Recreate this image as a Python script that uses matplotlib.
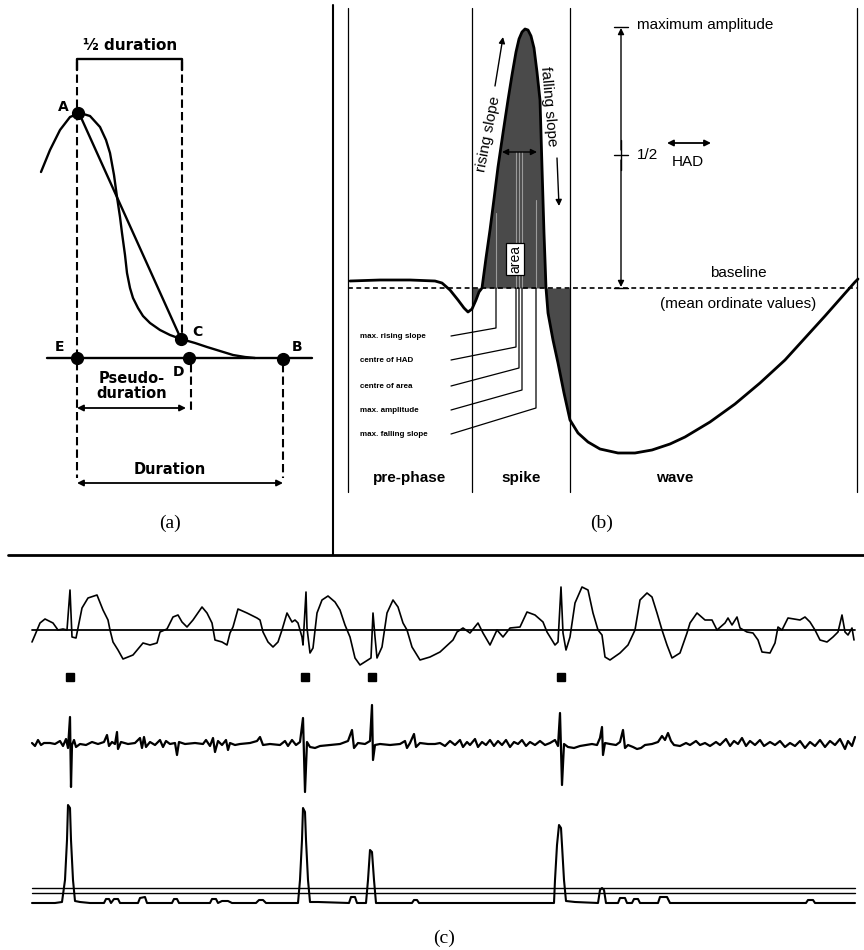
import numpy as np
import matplotlib
matplotlib.use('Agg')
import matplotlib.pyplot as plt

plt.rcParams['lines.scale_dashes'] = False
plt.rcParams['lines.solid_capstyle'] = 'round'

# ---------- panel (a): duration / pseudo-duration sketch ----------
a_curve_x = [41, 50, 60, 70, 80, 90, 100, 106, 110, 114, 117, 120, 122, 125, 127,
             130, 133, 138, 143, 150, 160, 170, 181, 195, 207, 220, 233, 245, 255]
a_curve_y = [172, 150, 130, 117, 113, 116, 127, 140, 153, 175, 197, 217, 233, 255, 273,
             288, 298, 308, 316, 323, 330, 335, 339, 343, 347, 351, 355, 357, 358]
a_chord_x = [79, 181]
a_chord_y = [113, 339]
a_point_names = ['A', 'C', 'D', 'E', 'B']
a_point_x = [78, 181, 189, 77, 283]
a_point_y = [113, 339, 358, 358, 359]

# ---------- panel (b): spike / wave parameters ----------
b_curve_x = [350, 380, 410, 435, 442, 450, 458, 464, 468, 472, 476, 479, 482, 486, 490,
             494, 498, 503, 508, 512, 516, 519, 522, 525, 528, 531, 534, 537, 540, 541,
             542, 543, 544, 545, 546, 548, 553, 558, 564, 570, 578, 588, 600, 618, 635,
             652, 670, 685, 710, 735, 760, 785, 805, 825, 840, 855, 858]
b_curve_y = [281, 280, 280, 281, 283, 290, 300, 308, 312, 309, 300, 292, 288, 258, 230,
             199, 167, 133, 100, 75, 52, 39, 32, 29, 30, 36, 48, 72, 100, 133,
             167, 200, 233, 260, 288, 313, 340, 363, 393, 420, 433, 442, 449, 453, 453,
             450, 444, 437, 422, 404, 383, 360, 338, 316, 299, 282, 279]
b_baseline = 288
b_phase_x = [348, 472, 570, 857]
b_phase_names = ['pre-phase', 'spike', 'wave']
b_param_names = ['max. rising slope', 'centre of HAD', 'centre of area',
                 'max. amplitude', 'max. falling slope']
b_param_x = [496, 516, 519, 522, 536]
b_param_top = [213, 152, 152, 152, 200]
b_param_bottom = [328, 347, 368, 390, 408]
b_param_label_y = [336, 360, 386, 410, 434]

# ---------- panel (c): recordings ----------
c1_x = [32, 35, 40, 45, 53, 58, 63, 67, 70, 72, 76, 78, 82, 88, 97, 103, 108, 110, 113,
        118, 123, 133, 143, 150, 157, 160, 167, 173, 178, 182, 187, 193, 202, 207, 212,
        215, 222, 227, 230, 233, 238, 247, 257, 260, 263, 268, 273, 278, 282, 287, 292,
        295, 298, 302, 303, 306, 307, 310, 313, 317, 322, 328, 335, 340, 345, 350, 355,
        360, 368, 371, 373, 375, 377, 382, 387, 393, 398, 403, 407, 412, 420, 430, 440,
        453, 457, 463, 470, 478, 483, 490, 497, 503, 510, 520, 527, 535, 543, 547, 555,
        558, 561, 563, 566, 570, 575, 582, 588, 593, 598, 602, 605, 610, 620, 628, 635,
        640, 647, 652, 657, 662, 667, 672, 680, 687, 690, 697, 705, 712, 717, 725, 728,
        732, 737, 740, 747, 753, 758, 762, 770, 775, 778, 782, 788, 800, 805, 810, 815,
        820, 827, 833, 838, 842, 845, 848, 852, 854]
c1_y = [642, 635, 623, 619, 623, 630, 629, 630, 590, 637, 638, 628, 608, 598, 595, 610,
        620, 630, 642, 650, 659, 655, 643, 645, 643, 632, 629, 617, 615, 622, 627, 620,
        607, 613, 623, 640, 642, 645, 633, 627, 609, 613, 618, 620, 632, 642, 647, 642,
        630, 613, 622, 620, 623, 637, 645, 592, 628, 653, 648, 613, 600, 596, 602, 610,
        625, 637, 658, 665, 660, 658, 613, 637, 658, 647, 613, 600, 607, 623, 630, 647,
        660, 657, 652, 640, 632, 628, 633, 623, 633, 645, 630, 637, 628, 627, 612, 615,
        622, 632, 645, 642, 587, 633, 650, 637, 603, 587, 590, 613, 630, 635, 657, 660,
        653, 645, 630, 600, 593, 597, 613, 630, 645, 658, 653, 633, 623, 613, 620, 620,
        630, 623, 618, 625, 617, 628, 632, 633, 640, 652, 653, 643, 627, 630, 618, 620,
        617, 622, 630, 640, 642, 637, 632, 615, 632, 635, 628, 640]
c1_baseline = 630
c_marker_x = [70, 305, 372, 561]

c2_x = [32, 35, 38, 41, 44, 50, 55, 60, 63, 66, 68, 70, 71, 72, 74, 76, 80, 86, 92, 98,
        104, 107, 109, 112, 115, 117, 118, 121, 128, 135, 140, 142, 144, 146, 150, 155,
        160, 163, 166, 170, 175, 177, 179, 185, 195, 203, 206, 210, 213, 215, 218, 222,
        226, 228, 230, 235, 240, 250, 257, 260, 263, 270, 280, 285, 288, 292, 296, 300,
        303, 305, 307, 310, 315, 320, 330, 340, 348, 352, 354, 358, 365, 370, 372, 373,
        375, 380, 390, 400, 405, 407, 410, 414, 416, 420, 428, 435, 440, 445, 450, 455,
        460, 463, 467, 470, 475, 478, 482, 486, 490, 494, 498, 502, 506, 510, 514, 518,
        522, 526, 530, 535, 540, 545, 550, 555, 558, 560, 562, 564, 568, 574, 580, 586,
        592, 597, 600, 602, 603, 605, 610, 616, 620, 623, 625, 628, 633, 637, 641, 645,
        652, 658, 662, 665, 668, 671, 674, 680, 686, 690, 696, 700, 705, 710, 716, 720,
        726, 730, 734, 738, 742, 746, 750, 755, 760, 764, 770, 775, 780, 785, 790, 795,
        800, 805, 810, 815, 820, 825, 830, 835, 840, 845, 848, 852, 855]
c2_y = [743, 746, 740, 745, 743, 743, 744, 741, 746, 739, 748, 717, 787, 745, 740, 747,
        744, 745, 742, 744, 742, 735, 746, 742, 744, 732, 749, 742, 744, 743, 738, 748,
        737, 747, 742, 745, 740, 747, 741, 744, 743, 755, 742, 744, 743, 744, 740, 746,
        738, 752, 741, 745, 740, 750, 743, 745, 744, 743, 741, 737, 745, 744, 745, 741,
        746, 740, 745, 742, 718, 792, 742, 747, 748, 746, 745, 744, 741, 730, 748, 743,
        744, 741, 705, 760, 745, 744, 745, 744, 741, 748, 743, 734, 747, 743, 744, 744,
        743, 746, 741, 745, 740, 747, 742, 745, 739, 747, 742, 745, 740, 746, 741, 745,
        740, 747, 742, 744, 740, 746, 742, 745, 741, 745, 743, 740, 746, 713, 785, 744,
        747, 748, 746, 745, 744, 745, 738, 727, 755, 743, 744, 745, 742, 730, 748, 745,
        747, 749, 748, 745, 744, 742, 736, 740, 733, 741, 745, 746, 743, 745, 741, 745,
        743, 746, 742, 745, 739, 746, 741, 744, 738, 746, 741, 745, 740, 746, 742, 745,
        741, 747, 743, 746, 741, 748, 742, 746, 740, 747, 741, 745, 739, 749, 741, 746,
        737]

c3_x = [32, 55, 62, 65, 67, 68, 70, 71, 73, 75, 80, 90, 104, 106, 109, 111, 114, 118,
        120, 138, 140, 145, 147, 172, 174, 177, 179, 210, 212, 216, 218, 222, 228, 232,
        256, 259, 263, 266, 298, 300, 302, 303, 305, 306, 308, 310, 318, 349, 351, 355,
        357, 366, 368, 370, 372, 374, 376, 412, 414, 417, 419, 554, 555, 557, 559, 561,
        562, 564, 566, 575, 598, 600, 602, 604, 606, 618, 620, 625, 627, 632, 634, 638,
        640, 658, 660, 667, 670, 806, 808, 813, 815, 855]
c3_y = [903, 903, 902, 880, 840, 805, 808, 840, 880, 901, 902, 903, 903, 899, 899, 903,
        899, 899, 903, 903, 898, 897, 903, 903, 899, 899, 903, 903, 899, 899, 903, 901,
        901, 903, 903, 900, 900, 903, 903, 880, 840, 808, 812, 840, 880, 902, 902, 903,
        897, 897, 903, 903, 880, 850, 852, 880, 903, 903, 900, 900, 903, 903, 880, 845,
        825, 828, 845, 880, 901, 902, 903, 890, 888, 890, 903, 903, 898, 898, 903, 903,
        899, 899, 903, 903, 897, 897, 903, 903, 900, 900, 903, 903]
c3_thresholds = [888, 893]


def arrow(ax, x0, y0, x1, y1, style='<|-|>', lw=1.3, scale=9):
    ax.annotate('', xy=(x1, y1), xytext=(x0, y0),
                arrowprops=dict(arrowstyle=style, color='black', lw=lw,
                                shrinkA=0, shrinkB=0, mutation_scale=scale))


def draw_panel_a(ax):
    futura = dict(family='DejaVu Sans', weight='bold', color='black')
    dash = dict(color='black', lw=1.5, dashes=(6, 3))
    ax.plot(a_curve_x, a_curve_y, color='black', lw=1.7)
    ax.plot(a_chord_x, a_chord_y, color='black', lw=1.7)
    ax.plot([47, 312], [358, 358], color='black', lw=1.7)
    # half duration bracket
    ax.plot([77, 77, 182, 182], [70, 59, 59, 70], color='black', lw=1.7)
    ax.plot([77, 77], [62, 478], **dash)
    ax.plot([182, 182], [62, 334], **dash)
    ax.plot([191, 191], [364, 410], **dash)
    ax.plot([283, 283], [364, 478], **dash)
    ax.plot(a_point_x, a_point_y, 'o', color='black', ms=8.5, ls='none')
    offsets = {'A': (-15, -6), 'C': (16, -7), 'D': (-10, 14), 'E': (-17, -11), 'B': (14, -12)}
    for name, x, y in zip(a_point_names, a_point_x, a_point_y):
        dx, dy = offsets[name]
        ax.text(x + dx, y + dy, name, ha='center', va='center', fontsize=10, **futura)
    ax.text(130, 45, '½ duration', ha='center', va='center', fontsize=11, **futura)
    ax.text(132, 386, 'Pseudo-\nduration', ha='center', va='center', fontsize=10.5,
            linespacing=1.0, **futura)
    arrow(ax, 77, 408, 186, 408)
    ax.text(170, 469, 'Duration', ha='center', va='center', fontsize=10.5, **futura)
    arrow(ax, 77, 483, 283, 483)
    ax.text(170, 523, '(a)', ha='center', va='center', fontsize=14, family='Liberation Serif')


def draw_panel_b(ax):
    helv = dict(family='Liberation Sans', color='black')
    x = np.array(b_curve_x)
    y = np.array(b_curve_y)
    ax.fill_between(x, y, b_baseline, where=(x >= b_phase_x[1]) & (x <= b_phase_x[2]),
                    color='#4a4a4a', lw=0, interpolate=True)
    for px in b_phase_x:
        ax.plot([px, px], [8, 492], color='black', lw=0.9)
    ax.plot([348, 857], [b_baseline, b_baseline], color='black', lw=1.2, dashes=(3.5, 2.5))
    ax.plot(x, y, color='black', lw=2.0)

    # parameter leaders
    for name, px, top, bot, ly in zip(b_param_names, b_param_x, b_param_top,
                                      b_param_bottom, b_param_label_y):
        ax.plot([px, px], [top, b_baseline], color='#9a9a9a', lw=0.8)
        ax.plot([px, px, 451], [b_baseline, bot, ly], color='black', lw=0.9)
        ax.text(360, ly, name, ha='left', va='center', fontsize=5.8, weight='bold', **helv)

    ax.text(515, 259, 'area', rotation=90, ha='center', va='center', fontsize=10,
            bbox=dict(boxstyle='square,pad=0.12', fc='white', ec='black', lw=0.9), **helv)
    ax.text(488, 134, 'rising slope', rotation=79, ha='center', va='center',
            fontsize=11, **helv)
    arrow(ax, 495, 86, 503, 37, style='-|>', lw=1.0)
    ax.text(548, 106, 'falling slope', rotation=-85, ha='center', va='center',
            fontsize=11, **helv)
    arrow(ax, 557, 158, 559, 206, style='-|>', lw=1.0)
    arrow(ax, 502, 152, 537, 152, lw=1.0)

    # maximum amplitude scale
    arrow(ax, 621, 150, 621, 28, style='-|>', lw=1.0)
    arrow(ax, 621, 160, 621, 287, style='-|>', lw=1.0)
    ax.plot([621, 621], [140, 170], color='black', lw=1.0)
    for ty in [27, 155, 288]:
        ax.plot([614, 628], [ty, ty], color='black', lw=1.0)
    ax.text(637, 25, 'maximum amplitude', ha='left', va='center', fontsize=11, **helv)
    ax.text(637, 155, '1/2', ha='left', va='center', fontsize=11, **helv)
    ax.text(688, 162, 'HAD', ha='center', va='center', fontsize=11, **helv)
    arrow(ax, 667, 143, 711, 143, lw=1.3)
    ax.text(738, 273, 'baseline', ha='center', va='center', fontsize=11, **helv)
    ax.text(738, 304, '(mean ordinate values)', ha='center', va='center', fontsize=11, **helv)

    centres = [(b_phase_x[i] + b_phase_x[i + 1]) / 2 for i in range(3)]
    centres[2] = 675
    for name, cx in zip(b_phase_names, centres):
        ax.text(cx, 478, name, ha='center', va='center', fontsize=11, weight='bold', **helv)
    ax.text(602, 523, '(b)', ha='center', va='center', fontsize=14, family='Liberation Serif')


def draw_panel_c(ax):
    ax.plot([32, 855], [c1_baseline, c1_baseline], color='black', lw=1.3)
    ax.plot(c1_x, c1_y, color='black', lw=1.2)
    ax.plot(c_marker_x, [677] * len(c_marker_x), 's', color='black', ms=5.5)
    ax.plot(c2_x, c2_y, color='black', lw=1.6)
    for ty in c3_thresholds:
        ax.plot([32, 855], [ty, ty], color='black', lw=1.0)
    ax.plot(c3_x, c3_y, color='black', lw=1.5)
    ax.text(444, 938, '(c)', ha='center', va='center', fontsize=14, family='Liberation Serif')


fig = plt.figure(figsize=(8.64, 9.5), dpi=100)
ax = fig.add_axes([0, 0, 1, 1])
ax.set_xlim(0, 864)
ax.set_ylim(950, 0)
ax.axis('off')

draw_panel_a(ax)
draw_panel_b(ax)
draw_panel_c(ax)

# frame lines between the panels
ax.plot([333, 333], [5, 555], color='black', lw=1.5)
ax.plot([8, 864], [555, 555], color='black', lw=2.0)

fig.savefig('out.png', dpi=100)
